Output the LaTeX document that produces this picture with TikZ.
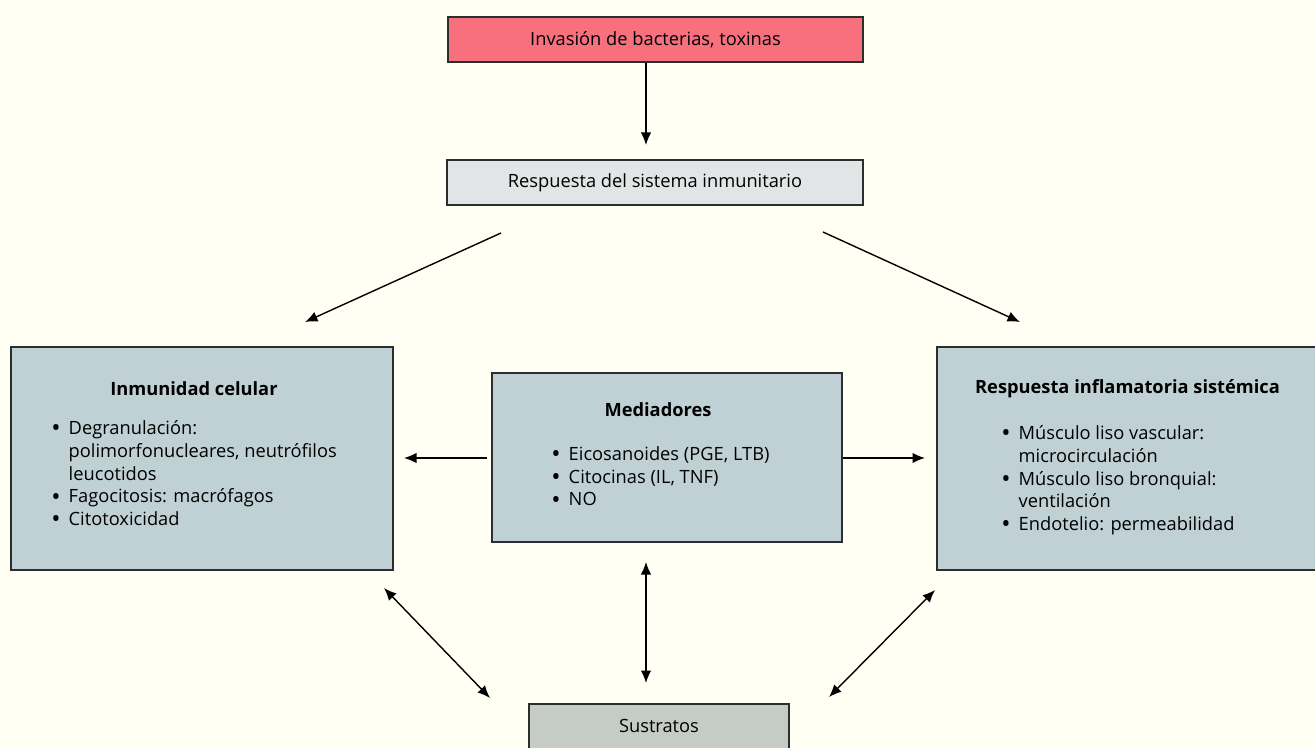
\documentclass[tikz,border=0pt]{standalone}
\usepackage{fontspec}
\setmainfont{Open Sans}
\usetikzlibrary{
    arrows.meta,
    positioning,
    calc
}
\newcommand{\fs}{\fontsize{10.4}{13}\selectfont}
\newcommand{\bul}{\makebox[0.95em][l]{\raisebox{-0.12em}{\scalebox{1.35}{\textbullet}}}}
\newcommand{\hng}{\hspace*{0.95em}}
\tikzset{
  box/.style   = {draw=BoxLine, line width=1pt, inner sep=0pt, font=\fs},
  ttl/.style   = {font=\fs\bfseries, inner sep=0pt},
  lst/.style   = {align=left, anchor=north west, inner sep=0pt, font=\fs},
  arr/.style   = {-{Latex[length=2.5mm,width=2.1mm]}, line width=0.8pt},
  darr/.style  = {{Latex[length=2.5mm,width=2.1mm]}-{Latex[length=2.5mm,width=2.1mm]}, line width=0.8pt}
}
\definecolor{PaperCream}{RGB}{255,255,243}
\definecolor{AlertRed}{RGB}{247,112,125}
\definecolor{PaleGray}{RGB}{225,229,229}
\definecolor{SlateBlue}{RGB}{192,209,213}
\definecolor{SageGray}{RGB}{197,204,197}
\definecolor{BoxLine}{RGB}{45,45,45}

\begin{document}
\begin{tikzpicture}
\fill[PaperCream] (0,0) rectangle (26.3,14.94);
\useasboundingbox (0,0) rectangle (26.3,14.94);

% boxes
\node[box, fill=AlertRed, minimum width=8.3cm, minimum height=0.9cm] (inv) at (13.11,14.15) {Invasión de bacterias, toxinas};
\node[box, fill=PaleGray, minimum width=8.32cm, minimum height=0.9cm] (resp) at (13.1,11.29) {Respuesta del sistema inmunitario};
\node[box, fill=SlateBlue, minimum width=7.64cm, minimum height=4.46cm] (inm) at (4.04,5.77) {};
\node[box, fill=SlateBlue, minimum width=7.0cm, minimum height=3.38cm] (med) at (13.34,5.79) {};
\node[box, fill=SlateBlue, minimum width=7.86cm, minimum height=4.46cm] (sis) at (22.67,5.77) {};
\node[box, fill=SageGray, minimum width=5.2cm, minimum height=0.9cm, anchor=north] (sus) at (13.18,0.88) {Sustratos};

% box texts
\node[ttl] (inmT) at (3.88,7.16) {Inmunidad celular};
\node[lst] (inmL) at (1.02,6.54) {\bul Degranulación:\\ \hng polimorfonucleares, neutrófilos\\ \hng leucotidos\\ \bul Fagocitosis: macrófagos\\ \bul Citotoxicidad};
\node[ttl] (medT) at (13.16,6.74) {Mediadores};
\node[lst] (medL) at (11.02,6.02) {\bul Eicosanoides (PGE, LTB)\\ \bul Citocinas (IL, TNF)\\ \bul NO};
\node[ttl] (sisT) at (22.55,7.16) {Respuesta inflamatoria sistémica};
\node[lst] (sisL) at (20.02,6.44) {\bul Músculo liso vascular:\\ \hng microcirculación\\ \bul Músculo liso bronquial:\\ \hng ventilación\\ \bul Endotelio: permeabilidad};

% arrow ends
\coordinate (a1) at (12.92,12.04);
\coordinate (dL0) at (10.02,10.28);
\coordinate (dL1) at (6.10,8.5);
\coordinate (dR0) at (16.46,10.3);
\coordinate (dR1) at (20.4,8.5);
\coordinate (hL) at (8.08,5.78);
\coordinate (hR) at (18.5,5.78);
\coordinate (v0) at (12.92,3.7);
\coordinate (v1) at (12.92,1.28);
\coordinate (bL0) at (7.68,3.18);
\coordinate (bL1) at (9.8,0.98);
\coordinate (bR0) at (18.7,3.14);
\coordinate (bR1) at (16.58,1.0);

\draw[arr] (inv.south -| a1) -- (a1);
\draw[arr] (dL0) -- (dL1);
\draw[arr] (dR0) -- (dR1);
\draw[arr] (med.west |- hL) ++(-0.08,0) -- (hL);
\draw[arr] (med.east |- hR) -- (hR);
\draw[darr] (v0) -- (v1);
\draw[darr] (bL0) -- (bL1);
\draw[darr] (bR0) -- (bR1);
\end{tikzpicture}
\end{document}
